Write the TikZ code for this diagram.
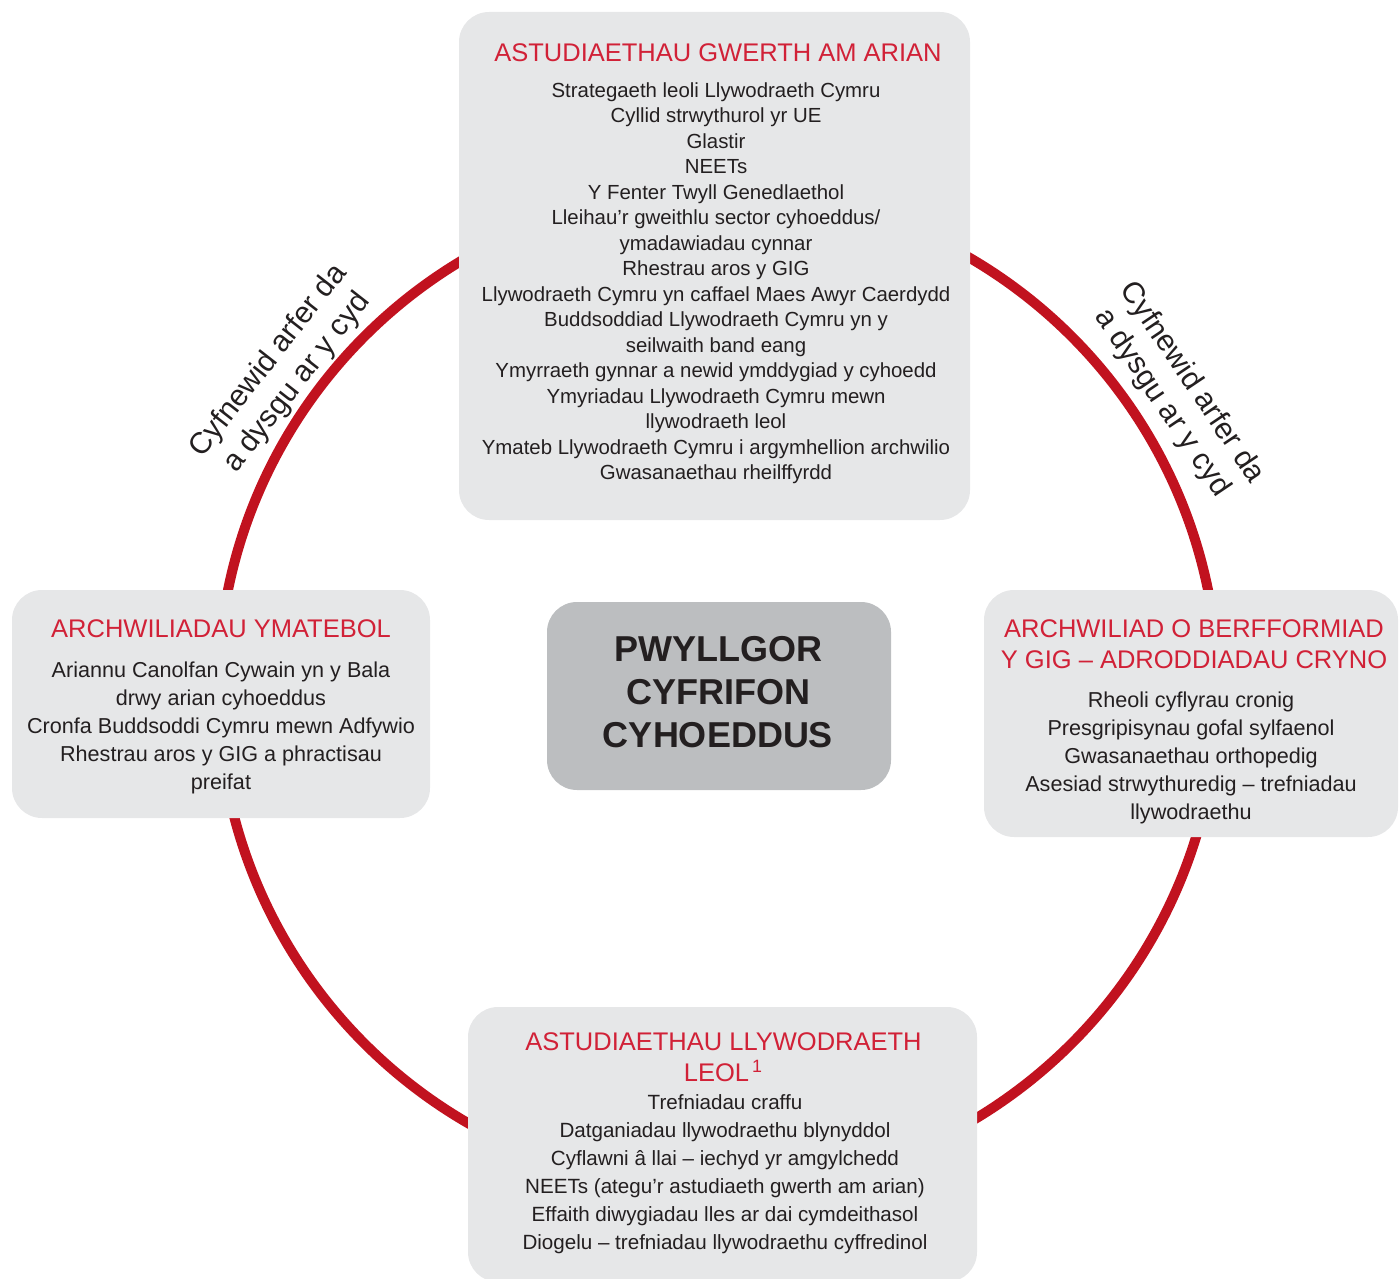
\documentclass[tikz,border=0pt]{standalone}
\usepackage{fontspec}
\setmainfont{Liberation Sans}

\definecolor{ringred}{RGB}{193,18,31}
\definecolor{headred}{RGB}{209,33,55}
\definecolor{panelgrey}{RGB}{230,231,232}
\definecolor{hubgrey}{RGB}{188,190,192}
\definecolor{inkblack}{RGB}{35,31,32}

\begin{document}
\begin{tikzpicture}[x=0.5pt,y=-0.5pt]
\tikzset{ringline/.style = {draw=ringred,line width=5pt}}
\tikzset{panel/.style = {fill=panelgrey,rounded corners=15pt,inner sep=0pt}}
\tikzset{hub/.style = {fill=hubgrey,rounded corners=15pt,inner sep=0pt}}
\tikzset{heading/.style = {anchor=north,align=center,inner sep=0pt,text=headred,font=\fontsize{12.75}{15.5}\selectfont}}
\tikzset{entries/.style = {anchor=north,align=center,inner sep=0pt,text=inkblack,font=\fontsize{10.8}{14}\selectfont}}
\tikzset{sidenote/.style = {align=center,inner sep=0pt,text=inkblack,font=\fontsize{15}{18}\selectfont}}

\useasboundingbox (0,0) rectangle (1400,1278);

% ring

\coordinate (ctr) at (718,690);
\draw[ringline] (ctr) circle (500);

% panels

\node[panel,minimum width=255.5pt,minimum height=254pt] (vfm) at (714.5,266) {};
\node[panel,minimum width=209pt,minimum height=114pt] (resp) at (221,704) {};
\node[panel,minimum width=207pt,minimum height=123.5pt] (nhs) at (1191,713.5) {};
\node[panel,minimum width=254.5pt,minimum height=137.5pt] (lgov) at (722.5,1144.5) {};
\node[hub,minimum width=172pt,minimum height=94pt] (pac) at (719,696) {};

% texts

\node[heading] (vfmhead) at (718,43) {ASTUDIAETHAU GWERTH AM ARIAN};
\node[entries,font=\fontsize{10.2}{12.75}\selectfont] (vfmlist) at (716,82.3) {Strategaeth leoli Llywodraeth Cymru\\
Cyllid strwythurol yr UE\\
Glastir\\
NEETs\\
Y Fenter Twyll Genedlaethol\\
Lleihau’r gweithlu sector cyhoeddus/\\
ymadawiadau cynnar\\
Rhestrau aros y GIG\\
Llywodraeth Cymru yn caffael Maes Awyr Caerdydd\\
Buddsoddiad Llywodraeth Cymru yn y\\
seilwaith band eang\\
Ymyrraeth gynnar a newid ymddygiad y cyhoedd\\
Ymyriadau Llywodraeth Cymru mewn\\
llywodraeth leol\\
Ymateb Llywodraeth Cymru i argymhellion archwilio\\
Gwasanaethau rheilffyrdd};

\node[heading] (resphead) at (221,619) {ARCHWILIADAU YMATEBOL};
\node[entries] (resplist) at (221,661.5) {Ariannu Canolfan Cywain yn y Bala\\
drwy arian cyhoeddus\\
Cronfa Buddsoddi Cymru mewn Adfywio\\
Rhestrau aros y GIG a phractisau\\
preifat};

\node[heading] (nhshead) at (1194,619) {ARCHWILIAD O BERFFORMIAD\\Y GIG – ADRODDIADAU CRYNO};
\node[entries] (nhslist) at (1191,691.5) {Rheoli cyflyrau cronig\\
Presgripisynau gofal sylfaenol\\
Gwasanaethau orthopedig\\
Asesiad strwythuredig – trefniadau\\
llywodraethu};

\node[heading] (lgovhead) at (723.5,1032) {ASTUDIAETHAU LLYWODRAETH\\LEOL\textsuperscript{\,1}};
\node[entries,font=\fontsize{10.3}{14}\selectfont] (lgovlist) at (725,1094) {Trefniadau craffu\\
Datganiadau llywodraethu blynyddol\\
Cyflawni â llai – iechyd yr amgylchedd\\
NEETs (ategu’r astudiaeth gwerth am arian)\\
Effaith diwygiadau lles ar dai cymdeithasol\\
Diogelu – trefniadau llywodraethu cyffredinol};

\node[anchor=north,align=center,inner sep=0pt,text=inkblack,font=\fontsize{18}{21.5}\selectfont\bfseries] (pactext) at (718,636) {PWYLLGOR\\CYFRIFON\\CYHOEDDUS};

% sharing

\node[sidenote,rotate=52] (shareleft) at (283,372) {Cyfnewid arfer da\\a dysgu ar y cyd};
\node[sidenote,rotate=-56] (shareright) at (1177,393) {Cyfnewid arfer da\\a dysgu ar y cyd};
\end{tikzpicture}
\end{document}
